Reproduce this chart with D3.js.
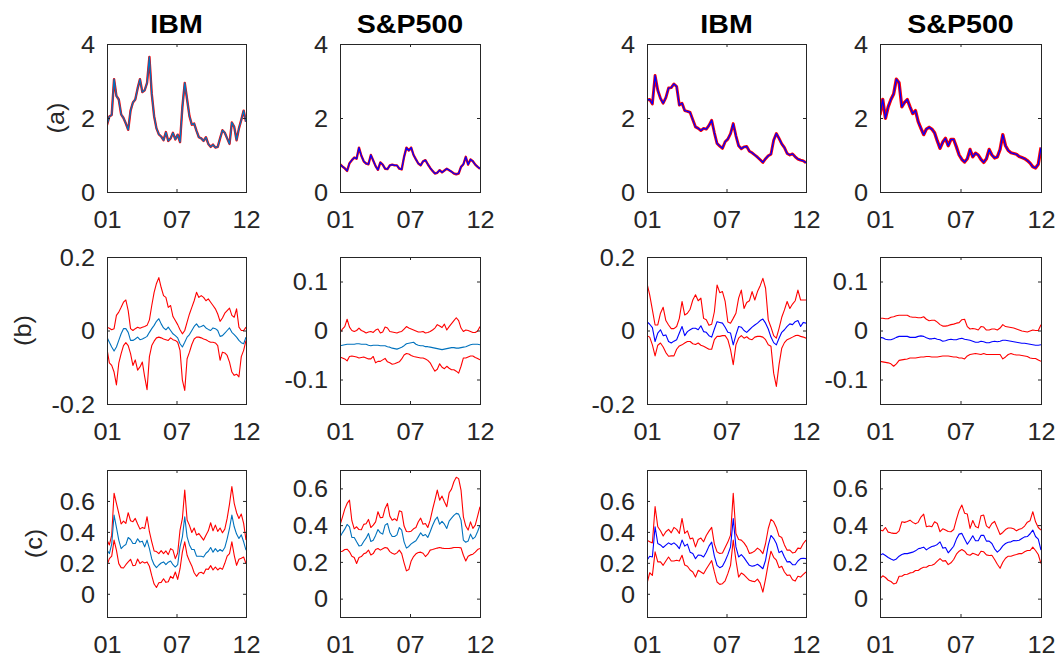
<!DOCTYPE html>
<html>
<head>
<meta charset="utf-8">
<script src="https://cdn.jsdelivr.net/npm/d3@7"></script>
<style>
  body { margin: 0; background: #fff; }
  svg { display: block; font-family: "Liberation Sans", Arial, sans-serif; }
</style>
</head>
<body>
<div id="chart"></div>
<script>
// ---- labels ----
const columnTitles = ["IBM", "S&P500", "IBM", "S&P500"];
const rowLabels = ["(a)", "(b)", "(c)"];
const xTickPos = [0, 0.5, 1];
const xTickLabels = ["01", "07", "12"];

// ---- row (a): level series (left half: IBM, S&P500; right half: IBM, S&P500) ----
const aIbmL = [1.81,2.04,2.08,3.05,2.6,2.5,2.1,2.0,1.85,1.68,2.2,2.42,2.5,2.8,3.05,2.7,2.75,2.95,3.65,2.65,2.05,1.72,1.56,1.5,1.4,1.62,1.38,1.45,1.6,1.42,1.55,1.35,2.3,2.95,2.5,2.05,1.82,1.85,1.65,1.48,1.45,1.38,1.48,1.3,1.22,1.28,1.2,1.22,1.45,1.67,1.6,1.45,1.3,1.88,1.76,1.4,1.72,1.95,2.2,1.9];
const aSpxL = [0.75,0.69,0.64,0.57,0.78,0.86,0.93,0.9,1.2,0.98,0.83,0.77,0.75,1.0,0.85,0.7,0.6,0.8,0.74,0.63,0.62,0.72,0.74,0.72,0.72,0.63,0.61,0.95,1.2,1.12,1.2,1.0,0.88,0.77,0.72,0.83,0.86,0.75,0.65,0.57,0.5,0.52,0.59,0.53,0.58,0.63,0.59,0.55,0.5,0.48,0.5,0.68,0.75,0.95,0.74,0.88,0.83,0.74,0.68,0.63];
const aIbmR = [2.49,2.5,2.38,3.15,2.75,2.53,2.4,2.55,2.81,2.82,2.92,2.85,2.35,2.4,2.2,2.18,2.15,1.95,1.76,1.72,1.66,1.72,1.7,1.8,1.94,1.6,1.31,1.24,1.18,1.36,1.43,1.58,1.85,1.52,1.25,1.17,1.22,1.23,1.1,1.06,1.0,0.94,0.87,0.8,0.9,0.98,1.02,1.4,1.58,1.45,1.3,1.2,1.04,1.0,1.03,0.95,0.89,0.86,0.84,0.79];
const aSpxR = [2.08,2.5,1.99,2.3,2.5,2.65,3.05,2.95,2.3,2.42,2.5,2.3,2.12,2.2,1.9,1.72,1.55,1.7,1.75,1.7,1.6,1.38,1.18,1.35,1.45,1.25,1.42,1.42,1.22,1.0,0.88,0.81,0.9,1.15,0.95,1.05,1.0,0.88,0.8,0.9,1.15,1.0,0.92,0.95,1.15,1.55,1.25,1.12,1.06,1.04,1.02,0.96,0.93,0.9,0.85,0.78,0.68,0.65,0.75,1.2];

// ---- row (b): estimate with upper / lower bands ----
const bIbmLMid = [-0.018,-0.032,-0.045,-0.056,-0.045,-0.027,-0.009,0.005,0.005,-0.005,-0.027,-0.027,-0.023,-0.018,-0.025,-0.023,-0.02,-0.016,-0.005,0.005,0.014,0.025,0.032,0.018,0.007,0.002,0.009,0,-0.009,-0.014,-0.02,-0.036,-0.045,-0.032,-0.018,-0.011,0,0.011,0.018,0.009,0.011,0.014,0.007,0.003,0,0.007,0.005,0,-0.016,-0.014,-0.007,0,0.007,-0.005,-0.011,-0.018,-0.027,-0.033,-0.036,-0.018];
const bIbmLUp = [0.009,0.006,0.002,0.005,0.041,0.05,0.063,0.077,0.083,0.054,0.005,0,0.005,0.009,0.006,0.009,0.011,0.014,0.029,0.068,0.104,0.128,0.144,0.117,0.095,0.09,0.063,0.068,0.038,0.027,0.016,0.002,-0.009,0,0.023,0.045,0.063,0.081,0.104,0.09,0.095,0.09,0.081,0.086,0.077,0.068,0.059,0.045,0.025,0.034,0.047,0.054,0.061,0.041,0.036,0.059,0.009,0,0,0.009];
const bIbmLLo = [-0.05,-0.088,-0.095,-0.113,-0.148,-0.089,-0.063,-0.041,-0.033,-0.041,-0.063,-0.095,-0.08,-0.108,-0.099,-0.086,-0.126,-0.161,-0.071,-0.041,-0.029,-0.02,-0.018,-0.02,-0.023,-0.025,-0.027,-0.02,-0.025,-0.027,-0.032,-0.054,-0.135,-0.163,-0.077,-0.059,-0.038,-0.023,-0.018,-0.018,-0.02,-0.023,-0.025,-0.029,-0.032,-0.032,-0.034,-0.041,-0.081,-0.059,-0.061,-0.068,-0.086,-0.113,-0.122,-0.119,-0.126,-0.071,-0.054,-0.027];

const bSpxLMid = [-0.031,-0.030,-0.029,-0.028,-0.028,-0.028,-0.028,-0.027,-0.027,-0.028,-0.028,-0.028,-0.030,-0.031,-0.030,-0.030,-0.030,-0.031,-0.031,-0.031,-0.033,-0.034,-0.036,-0.037,-0.038,-0.036,-0.034,-0.031,-0.027,-0.026,-0.025,-0.024,-0.028,-0.030,-0.031,-0.031,-0.033,-0.033,-0.034,-0.035,-0.036,-0.037,-0.038,-0.039,-0.038,-0.037,-0.036,-0.035,-0.035,-0.036,-0.036,-0.035,-0.034,-0.033,-0.031,-0.029,-0.028,-0.028,-0.028,-0.029];
const bSpxLUp = [-0.005,0.003,0.008,0.023,0.007,0,-0.002,0,0.005,0,-0.002,-0.005,-0.003,-0.002,-0.004,0.001,0.003,-0.005,-0.003,0.007,0.005,-0.002,-0.003,-0.004,-0.005,-0.003,-0.002,0.003,0.008,0.005,0.003,0.001,-0.001,-0.003,-0.003,-0.002,-0.005,-0.004,-0.002,0.001,0.005,0.012,0.009,0.006,0.013,0.001,0.008,0.014,0.02,0.026,0.02,0.005,-0.002,0.001,0,-0.002,-0.004,-0.004,-0.001,0.008];
const bSpxLLo = [-0.054,-0.056,-0.058,-0.062,-0.053,-0.052,-0.053,-0.054,-0.056,-0.055,-0.054,-0.056,-0.058,-0.058,-0.053,-0.066,-0.063,-0.063,-0.060,-0.057,-0.064,-0.066,-0.069,-0.068,-0.066,-0.064,-0.058,-0.050,-0.047,-0.048,-0.051,-0.053,-0.054,-0.055,-0.056,-0.056,-0.058,-0.061,-0.066,-0.075,-0.083,-0.079,-0.068,-0.075,-0.078,-0.073,-0.077,-0.080,-0.080,-0.083,-0.087,-0.073,-0.056,-0.056,-0.054,-0.052,-0.052,-0.055,-0.057,-0.060];

const bIbmRMid = [0.024,0.017,0.008,-0.030,-0.007,0.002,-0.014,-0.012,-0.030,-0.034,-0.029,-0.025,-0.007,0.011,-0.014,-0.003,0.002,0.006,0.006,0.002,0.013,-0.003,-0.005,-0.014,-0.018,0.004,0.024,0.022,0.020,0.009,-0.005,-0.007,-0.039,-0.012,0.011,0.009,0,-0.005,0.002,0.009,0.015,0.020,0.027,0.031,0.020,0.004,-0.018,-0.033,-0.039,-0.021,-0.005,0.002,0.011,0.018,0.016,0.024,0.027,0.011,0.022,0.020];
const bIbmRUp = [0.128,0.097,0.056,0.015,0.015,0.047,0.063,0.027,0.015,0.005,0.005,0.011,0.033,0.079,0.042,0.047,0.058,0.083,0.097,0.081,0.088,0.033,0.029,0.014,0.017,0.051,0.124,0.103,0.106,0.079,0.023,0.020,0.033,0.047,0.088,0.110,0.060,0.076,0.081,0.106,0.083,0.106,0.122,0.142,0.115,0.029,0.009,-0.014,-0.021,0.006,0.036,0.056,0.079,0.060,0.072,0.081,0.110,0.083,0.083,0.083];
const bIbmRLo = [-0.014,-0.018,-0.039,-0.069,-0.040,-0.034,-0.045,-0.060,-0.070,-0.069,-0.069,-0.051,-0.042,-0.039,-0.034,-0.030,-0.030,-0.036,-0.038,-0.034,-0.040,-0.043,-0.047,-0.051,-0.051,-0.025,-0.016,-0.016,-0.014,-0.014,-0.025,-0.052,-0.093,-0.039,-0.021,-0.014,-0.021,-0.017,-0.023,-0.025,-0.018,-0.016,-0.016,-0.018,-0.025,-0.039,-0.043,-0.116,-0.152,-0.093,-0.048,-0.033,-0.025,-0.022,-0.018,-0.014,-0.013,-0.016,-0.018,-0.021];

const bSpxRMid = [-0.014,-0.015,-0.018,-0.019,-0.019,-0.017,-0.014,-0.012,-0.012,-0.012,-0.012,-0.014,-0.014,-0.014,-0.012,-0.011,-0.012,-0.015,-0.017,-0.017,-0.016,-0.018,-0.019,-0.022,-0.021,-0.019,-0.018,-0.019,-0.019,-0.017,-0.016,-0.018,-0.019,-0.020,-0.022,-0.024,-0.024,-0.022,-0.023,-0.025,-0.025,-0.023,-0.022,-0.023,-0.022,-0.020,-0.020,-0.021,-0.022,-0.023,-0.024,-0.025,-0.026,-0.026,-0.027,-0.028,-0.029,-0.030,-0.030,-0.029];
const bSpxRUp = [0.025,0.025,0.024,0.024,0.027,0.028,0.030,0.031,0.031,0.031,0.031,0.028,0.027,0.027,0.026,0.026,0.028,0.023,0.020,0.021,0.021,0.017,0.012,0.009,0.009,0.010,0.012,0.013,0.015,0.016,0.022,0.023,0.008,0.003,0.004,0.003,0.001,0.008,0.007,0.001,0.001,0.003,0.003,0.001,0.005,0.012,0.008,0.007,0.006,0.005,0.003,0.001,-0.001,-0.002,-0.003,-0.001,0.001,0,0,0.012];
const bSpxRLo = [-0.063,-0.064,-0.065,-0.066,-0.068,-0.073,-0.068,-0.061,-0.060,-0.059,-0.058,-0.056,-0.056,-0.056,-0.055,-0.054,-0.054,-0.053,-0.053,-0.054,-0.054,-0.054,-0.053,-0.052,-0.052,-0.052,-0.053,-0.054,-0.054,-0.056,-0.056,-0.058,-0.052,-0.049,-0.048,-0.047,-0.048,-0.049,-0.047,-0.049,-0.049,-0.049,-0.049,-0.049,-0.049,-0.058,-0.054,-0.049,-0.047,-0.049,-0.050,-0.050,-0.051,-0.052,-0.053,-0.056,-0.057,-0.057,-0.060,-0.063];

// ---- row (c): estimate with upper / lower bands ----
const cIbmLMid = [0.282,0.260,0.321,0.509,0.429,0.347,0.292,0.308,0.318,0.364,0.351,0.325,0.325,0.355,0.334,0.340,0.303,0.347,0.292,0.225,0.188,0.169,0.186,0.199,0.206,0.188,0.204,0.212,0.188,0.173,0.188,0.303,0.368,0.498,0.368,0.316,0.286,0.286,0.243,0.243,0.243,0.238,0.262,0.275,0.299,0.269,0.292,0.273,0.286,0.275,0.299,0.355,0.422,0.509,0.433,0.386,0.357,0.381,0.336,0.282];
const cIbmLUp = [0.347,0.316,0.379,0.650,0.585,0.520,0.451,0.470,0.455,0.524,0.472,0.466,0.487,0.451,0.418,0.429,0.422,0.498,0.401,0.336,0.277,0.273,0.260,0.279,0.260,0.277,0.253,0.292,0.282,0.227,0.264,0.412,0.487,0.671,0.477,0.442,0.396,0.425,0.379,0.390,0.368,0.347,0.379,0.407,0.459,0.407,0.444,0.403,0.425,0.394,0.418,0.487,0.580,0.693,0.585,0.524,0.487,0.515,0.455,0.347];
const cIbmLLo = [0.184,0.227,0.243,0.347,0.282,0.195,0.169,0.167,0.188,0.206,0.223,0.182,0.184,0.225,0.195,0.208,0.199,0.206,0.178,0.117,0.063,0.041,0.071,0.074,0.097,0.074,0.078,0.113,0.100,0.141,0.093,0.162,0.271,0.336,0.249,0.212,0.180,0.136,0.113,0.134,0.139,0.130,0.160,0.158,0.182,0.154,0.173,0.154,0.167,0.158,0.197,0.243,0.260,0.336,0.249,0.184,0.223,0.230,0.238,0.195];

const cSpxLMid = [0.336,0.358,0.378,0.404,0.391,0.333,0.333,0.309,0.287,0.289,0.311,0.329,0.355,0.311,0.318,0.344,0.376,0.358,0.351,0.400,0.409,0.360,0.338,0.338,0.347,0.387,0.373,0.309,0.275,0.284,0.298,0.307,0.315,0.336,0.358,0.342,0.349,0.333,0.364,0.398,0.427,0.444,0.405,0.420,0.405,0.382,0.422,0.438,0.453,0.464,0.460,0.427,0.318,0.307,0.313,0.351,0.325,0.336,0.365,0.400];
const cSpxLUp = [0.400,0.442,0.487,0.518,0.536,0.424,0.380,0.391,0.376,0.375,0.404,0.407,0.431,0.387,0.400,0.418,0.473,0.440,0.442,0.491,0.518,0.449,0.427,0.435,0.424,0.478,0.473,0.395,0.365,0.364,0.367,0.380,0.387,0.418,0.438,0.405,0.409,0.387,0.427,0.485,0.536,0.591,0.536,0.558,0.527,0.500,0.576,0.596,0.636,0.660,0.653,0.591,0.445,0.395,0.373,0.418,0.382,0.400,0.449,0.500];
const cSpxLLo = [0.255,0.258,0.267,0.269,0.255,0.231,0.224,0.191,0.224,0.229,0.244,0.249,0.264,0.238,0.245,0.267,0.273,0.264,0.271,0.278,0.275,0.256,0.247,0.242,0.249,0.264,0.245,0.195,0.151,0.158,0.205,0.229,0.244,0.251,0.253,0.247,0.229,0.242,0.264,0.267,0.271,0.275,0.278,0.275,0.273,0.273,0.273,0.275,0.278,0.278,0.278,0.276,0.236,0.205,0.231,0.238,0.242,0.253,0.267,0.273];

const cIbmRMid = [0.217,0.243,0.238,0.433,0.325,0.316,0.299,0.314,0.329,0.318,0.329,0.314,0.292,0.347,0.308,0.321,0.269,0.260,0.227,0.251,0.249,0.238,0.269,0.308,0.334,0.243,0.184,0.169,0.178,0.212,0.253,0.303,0.487,0.303,0.238,0.253,0.234,0.208,0.184,0.178,0.182,0.191,0.178,0.162,0.217,0.314,0.377,0.357,0.325,0.266,0.277,0.238,0.206,0.208,0.188,0.188,0.212,0.227,0.230,0.227];
const cIbmRUp = [0.347,0.336,0.329,0.563,0.433,0.407,0.373,0.401,0.416,0.394,0.429,0.416,0.390,0.487,0.390,0.407,0.355,0.360,0.303,0.351,0.360,0.336,0.377,0.405,0.429,0.321,0.271,0.260,0.264,0.299,0.334,0.379,0.650,0.390,0.351,0.347,0.329,0.303,0.260,0.266,0.277,0.295,0.282,0.260,0.325,0.422,0.481,0.466,0.429,0.373,0.364,0.316,0.282,0.282,0.264,0.269,0.295,0.292,0.325,0.347];
const cIbmRLo = [0.065,0.136,0.119,0.271,0.206,0.206,0.184,0.212,0.238,0.212,0.212,0.217,0.212,0.249,0.186,0.178,0.154,0.141,0.108,0.152,0.141,0.130,0.160,0.188,0.214,0.141,0.076,0.061,0.065,0.084,0.130,0.184,0.347,0.217,0.108,0.134,0.123,0.104,0.087,0.082,0.078,0.095,0.069,0.011,0.097,0.195,0.275,0.236,0.217,0.169,0.178,0.141,0.119,0.121,0.091,0.082,0.113,0.108,0.126,0.141];

const cSpxRMid = [0.236,0.244,0.235,0.224,0.216,0.209,0.216,0.231,0.240,0.245,0.245,0.249,0.253,0.260,0.271,0.275,0.280,0.265,0.276,0.284,0.287,0.295,0.309,0.275,0.278,0.249,0.267,0.285,0.324,0.351,0.355,0.325,0.296,0.318,0.342,0.315,0.315,0.344,0.345,0.313,0.313,0.300,0.271,0.253,0.267,0.287,0.300,0.307,0.309,0.316,0.315,0.318,0.327,0.336,0.338,0.353,0.373,0.338,0.324,0.264];
const cSpxRUp = [0.373,0.369,0.387,0.362,0.358,0.355,0.355,0.369,0.418,0.415,0.420,0.427,0.415,0.407,0.415,0.444,0.460,0.391,0.395,0.391,0.418,0.409,0.364,0.380,0.373,0.365,0.364,0.376,0.431,0.480,0.509,0.465,0.460,0.382,0.425,0.393,0.385,0.451,0.455,0.396,0.384,0.409,0.420,0.385,0.349,0.360,0.376,0.384,0.384,0.380,0.369,0.378,0.382,0.395,0.416,0.424,0.473,0.418,0.387,0.373];
const cSpxRLo = [0.109,0.124,0.115,0.100,0.093,0.080,0.085,0.122,0.122,0.131,0.133,0.140,0.142,0.153,0.153,0.164,0.171,0.171,0.180,0.182,0.189,0.204,0.218,0.204,0.207,0.185,0.195,0.213,0.242,0.258,0.267,0.258,0.240,0.236,0.247,0.242,0.235,0.258,0.255,0.238,0.235,0.236,0.213,0.187,0.165,0.198,0.220,0.231,0.231,0.236,0.240,0.245,0.245,0.255,0.262,0.262,0.280,0.262,0.240,0.191];

// ---- layout ----
const W = 1060, H = 662;
const colX = [[107, 246], [340, 480], [647, 806], [880, 1041]];
const rowY = [[44, 192], [257, 404], [470, 617]];
const rowLabelX = [56, 23, 34];
const axisColor = "#262626";
const RED = "#ff0000", BLUE = "#0000ff", MBLUE = "#0072bd";
const stretch = 1.1; // reference glyphs are horizontally wide
const tickFont = 23;

const yCfg = {
    a:  { domain: [0, 4], ticks: [0, 2, 4] },
    bI: { domain: [-0.2, 0.2], ticks: [-0.2, 0, 0.2] },
    bS: { domain: [-0.15, 0.15], ticks: [-0.1, 0, 0.1] },
    cI: { domain: [-0.15, 0.8], ticks: [0, 0.2, 0.4, 0.6] },
    cS: { domain: [-0.1, 0.7], ticks: [0, 0.2, 0.4, 0.6] }
};

function band(mid, up, lo, midColor) {
    return [
        { values: up, color: RED, width: 1.1 },
        { values: lo, color: RED, width: 1.1 },
        { values: mid, color: midColor, width: 1.1 }
    ];
}
function level(vals, midColor, redW) {
    return [
        { values: vals, color: RED, width: redW },
        { values: vals, color: midColor, width: 1.3 }
    ];
}

const panels = [
    { row: 0, col: 0, y: yCfg.a, lines: level(aIbmL, MBLUE, 2.4) },
    { row: 0, col: 1, y: yCfg.a, lines: level(aSpxL, BLUE, 2.4) },
    { row: 0, col: 2, y: yCfg.a, lines: level(aIbmR, BLUE, 2.9) },
    { row: 0, col: 3, y: yCfg.a, lines: level(aSpxR, BLUE, 3.3) },
    { row: 1, col: 0, y: yCfg.bI, lines: band(bIbmLMid, bIbmLUp, bIbmLLo, MBLUE) },
    { row: 1, col: 1, y: yCfg.bS, lines: band(bSpxLMid, bSpxLUp, bSpxLLo, MBLUE) },
    { row: 1, col: 2, y: yCfg.bI, lines: band(bIbmRMid, bIbmRUp, bIbmRLo, BLUE) },
    { row: 1, col: 3, y: yCfg.bS, lines: band(bSpxRMid, bSpxRUp, bSpxRLo, BLUE) },
    { row: 2, col: 0, y: yCfg.cI, lines: band(cIbmLMid, cIbmLUp, cIbmLLo, MBLUE) },
    { row: 2, col: 1, y: yCfg.cS, lines: band(cSpxLMid, cSpxLUp, cSpxLLo, MBLUE) },
    { row: 2, col: 2, y: yCfg.cI, lines: band(cIbmRMid, cIbmRUp, cIbmRLo, BLUE) },
    { row: 2, col: 3, y: yCfg.cS, lines: band(cSpxRMid, cSpxRUp, cSpxRLo, BLUE) }
];

const svg = d3.select("#chart")
    .append("svg")
    .attr("width", W)
    .attr("height", H);

// stretched text helper
function wideText(parent, x, y, txt, extra) {
    return parent.append("text")
        .attr("transform", `translate(${x},${y}) ${extra || ""} scale(${stretch},1)`)
        .text(txt);
}

// column titles
columnTitles.forEach((t, c) => {
    wideText(svg, (colX[c][0] + colX[c][1]) / 2, 33, t)
        .attr("text-anchor", "middle")
        .attr("font-size", 26)
        .attr("font-weight", "bold")
        .attr("fill", "#000");
});

// row labels
rowLabels.forEach((t, r) => {
    wideText(svg, rowLabelX[r], (rowY[r][0] + rowY[r][1]) / 2, t, "rotate(-90)")
        .attr("text-anchor", "middle")
        .attr("dy", "0.35em")
        .attr("font-size", tickFont)
        .attr("fill", axisColor);
});

panels.forEach((p, k) => {
    const [x0, x1] = colX[p.col];
    const [y0, y1] = rowY[p.row];
    const x = d3.scaleLinear().domain([0, 1]).range([x0, x1]);
    const y = d3.scaleLinear().domain(p.y.domain).range([y1, y0]);

    const g = svg.append("g");

    g.append("clipPath")
        .attr("id", "clip" + k)
        .append("rect")
        .attr("x", x0).attr("y", y0)
        .attr("width", x1 - x0).attr("height", y1 - y0);

    const plot = g.append("g").attr("clip-path", `url(#clip${k})`);
    p.lines.forEach(l => {
        const n = l.values.length;
        const line = d3.line()
            .x((d, i) => x(i / (n - 1)))
            .y(d => y(d));
        plot.append("path")
            .attr("d", line(l.values))
            .attr("fill", "none")
            .attr("stroke", l.color)
            .attr("stroke-width", l.width)
            .attr("stroke-linejoin", "round");
    });

    // axes: inward ticks on all four sides
    const styleAxis = sel => {
        sel.select(".domain").remove();
        sel.selectAll(".tick line").attr("stroke", axisColor);
    };
    const styleText = sel => sel
        .attr("fill", axisColor)
        .style("font-size", tickFont + "px")
        .style("font-family", "'Liberation Sans', Arial, sans-serif");

    g.append("g")
        .attr("transform", `translate(${x0},0)`)
        .call(d3.axisLeft(y).tickValues(p.y.ticks).tickSize(-3).tickFormat(d => String(d)))
        .call(styleAxis)
        .call(a => a.selectAll("text")
            .attr("x", null)
            .attr("dy", "0.36em")
            .attr("transform", `translate(-12,0) scale(${stretch},1)`)
            .attr("text-anchor", "end")
            .call(styleText));

    g.append("g")
        .attr("transform", `translate(${x1},0)`)
        .call(d3.axisRight(y).tickValues(p.y.ticks).tickSize(-3).tickFormat(""))
        .call(styleAxis);

    g.append("g")
        .attr("transform", `translate(0,${y1})`)
        .call(d3.axisBottom(x).tickValues(xTickPos).tickSize(-3).tickFormat((d, i) => xTickLabels[i]))
        .call(styleAxis)
        .call(a => a.selectAll("text")
            .attr("y", null)
            .attr("dy", null)
            .attr("transform", `translate(0,36) scale(${stretch},1)`)
            .attr("text-anchor", "middle")
            .call(styleText));

    g.append("g")
        .attr("transform", `translate(0,${y0})`)
        .call(d3.axisTop(x).tickValues(xTickPos).tickSize(-3).tickFormat(""))
        .call(styleAxis);

    // box
    g.append("rect")
        .attr("x", x0 + 0.5).attr("y", y0 + 0.5)
        .attr("width", x1 - x0).attr("height", y1 - y0)
        .attr("fill", "none")
        .attr("stroke", axisColor)
        .attr("stroke-width", 1);
});
</script>
</body>
</html>
